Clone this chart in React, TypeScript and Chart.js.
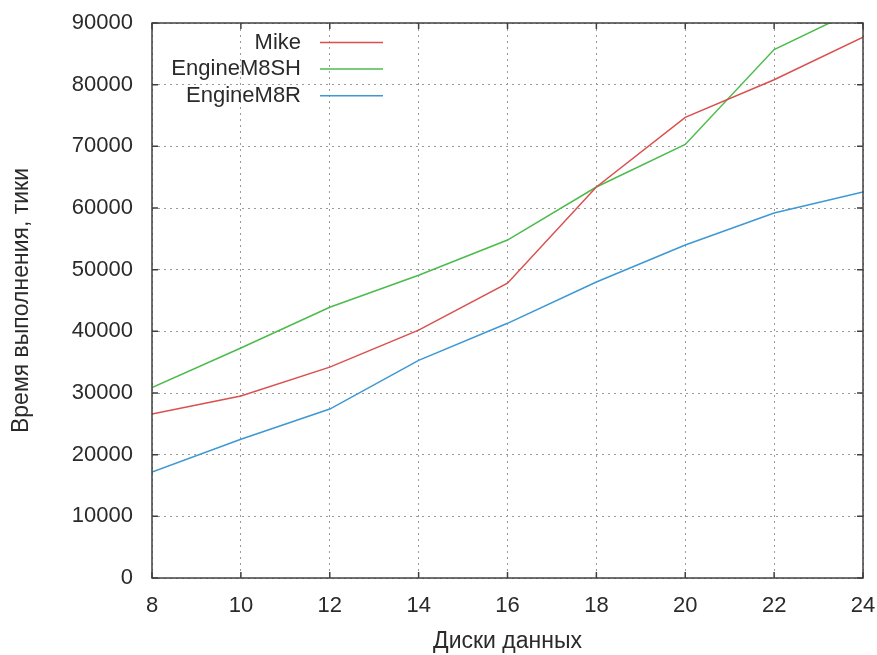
import React, { useEffect, useRef } from "react";
import { Chart, registerables } from "chart.js";

Chart.register(...registerables);

const disks = [8, 10, 12, 14, 16, 18, 20, 22, 24];
const mike = [26600, 29500, 34200, 40200, 47800, 63400, 74700, 80800, 87700];
const engineM8SH = [30900, 37300, 43900, 49100, 54800, 63400, 70300, 85700, 92600];
const engineM8R = [17200, 22500, 27400, 35300, 41300, 48000, 54000, 59200, 62600];
const seriesNames = ["Mike", "EngineM8SH", "EngineM8R"];
const seriesColors = ["#d9504e", "#4cbb4c", "#3d98d3"];
const xTitle = "Диски данных";
const yTitle = "Время выполнения, тики";

const FONT = "'Liberation Sans', Arial, sans-serif";

const framePlugin = {
  id: "frame",
  afterDatasetsDraw(chart: any) {
    const { ctx, chartArea: a, scales } = chart;
    ctx.save();
    ctx.strokeStyle = "#404040";
    ctx.lineWidth = 1.5;
    ctx.strokeRect(a.left, a.top, a.right - a.left, a.bottom - a.top);
    const tl = 6;
    ctx.beginPath();
    scales.x.ticks.forEach((t: any) => {
      const px = scales.x.getPixelForValue(t.value);
      ctx.moveTo(px, a.bottom);
      ctx.lineTo(px, a.bottom - tl);
      ctx.moveTo(px, a.top);
      ctx.lineTo(px, a.top + tl);
    });
    scales.y.ticks.forEach((t: any) => {
      const py = scales.y.getPixelForValue(t.value);
      ctx.moveTo(a.left, py);
      ctx.lineTo(a.left + tl, py);
      ctx.moveTo(a.right, py);
      ctx.lineTo(a.right - tl, py);
    });
    ctx.stroke();

    // legend
    ctx.font = `22px ${FONT}`;
    ctx.textAlign = "right";
    ctx.textBaseline = "middle";
    chart.data.datasets.forEach((ds: any, i: number) => {
      const y = a.top + 19.5 + i * 26.6;
      ctx.fillStyle = "#2a2a2a";
      ctx.fillText(ds.label, a.left + 149, y);
      ctx.strokeStyle = ds.borderColor;
      ctx.lineWidth = 1.5;
      ctx.beginPath();
      ctx.moveTo(a.left + 168, y);
      ctx.lineTo(a.left + 231, y);
      ctx.stroke();
    });
    ctx.restore();
  },
};

export default function App() {
  const ref = useRef<HTMLCanvasElement>(null);
  useEffect(() => {
    if (!ref.current) return;
    const seriesData = [mike, engineM8SH, engineM8R];
    const chart = new Chart(ref.current, {
      type: "line",
      data: {
        datasets: seriesNames.map((name, i) => ({
          label: name,
          data: disks.map((d, j) => ({ x: d, y: seriesData[i][j] })),
          borderColor: seriesColors[i],
          backgroundColor: seriesColors[i],
          borderWidth: 1.5,
          pointRadius: 0,
          tension: 0,
          fill: false,
        })),
      },
      options: {
        responsive: false,
        animation: false,
        devicePixelRatio: 1,
        layout: { padding: { left: 0, top: 23, right: 14, bottom: 0 } },
        plugins: { legend: { display: false }, tooltip: { enabled: false } },
        scales: {
          x: {
            type: "linear",
            min: 8,
            max: 24,
            afterFit(scale: any) {
              scale.height = 77;
              scale.paddingLeft = 0;
              scale.paddingRight = 0;
            },
            ticks: {
              stepSize: 2,
              color: "#2a2a2a",
              font: { family: FONT, size: 22 },
              padding: 15,
              maxRotation: 0,
              callback: (v: any) => String(v),
            },
            grid: {
              color: "#9a9a9a",
              lineWidth: 1,
              drawTicks: false,
            },
            border: { display: false, dash: [2, 4] },
            title: {
              display: true,
              text: xTitle,
              color: "#2a2a2a",
              font: { family: FONT, size: 23 },
              padding: { top: 0, bottom: 0 },
            },
          },
          y: {
            type: "linear",
            min: 0,
            max: 90000,
            afterFit(scale: any) {
              scale.width = 152;
              scale.paddingTop = 0;
              scale.paddingBottom = 0;
            },
            ticks: {
              stepSize: 10000,
              color: "#2a2a2a",
              font: { family: FONT, size: 22 },
              padding: 19,
              callback: (v: any) => String(v),
            },
            grid: {
              color: "#9a9a9a",
              lineWidth: 1,
              drawTicks: false,
            },
            border: { display: false, dash: [2, 4] },
            title: {
              display: true,
              text: yTitle,
              color: "#2a2a2a",
              font: { family: FONT, size: 23 },
              padding: { top: 8, bottom: 0 },
            },
          },
        },
      },
      plugins: [framePlugin],
    });
    return () => chart.destroy();
  }, []);
  return (
    <div style={{ position: "fixed", left: 0, top: 0, width: 877, height: 655, background: "#fff" }}>
      <canvas ref={ref} width={877} height={655} style={{ display: "block", width: 877, height: 655 }} />
    </div>
  );
}
